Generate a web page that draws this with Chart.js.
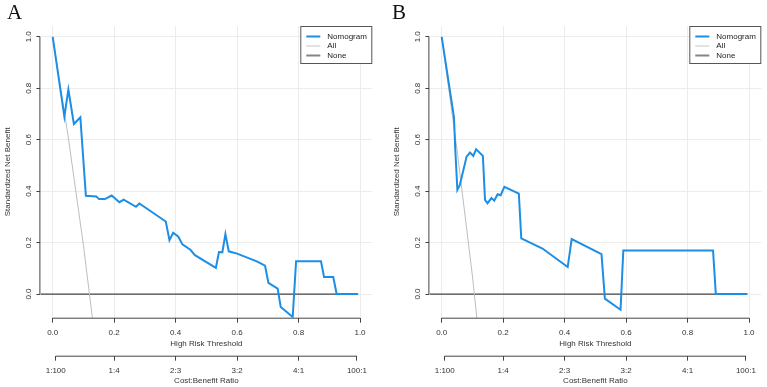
<!DOCTYPE html>
<html>
<head>
<meta charset="utf-8">
<script src="https://cdn.jsdelivr.net/npm/chart.js@4.4.1/dist/chart.umd.min.js"></script>
<style>
  body { margin: 0; background: #fff; overflow: hidden; }
  #wrap { position: relative; width: 767px; height: 387px; }
  .panel { position: absolute; top: 0; height: 387px; }
  .tag { position: absolute; top: 2px; font-family: "Liberation Serif", serif; font-size: 21px; line-height: 21px; color: #111; }
</style>
</head>
<body>
<div id="wrap">
  <div class="panel" style="left:0;width:383px"><canvas id="chartA" width="383" height="387"></canvas></div>
  <div class="panel" style="left:389px;width:378px"><canvas id="chartB" width="378" height="387"></canvas></div>
  <div class="tag" style="left:7px">A</div>
  <div class="tag" style="left:392px">B</div>
</div>
<script>
// panel A
const thresholdA = [0, 0.038, 0.051, 0.069, 0.09, 0.108, 0.142, 0.151, 0.17, 0.192, 0.217, 0.231, 0.271, 0.282,
  0.368, 0.38, 0.392, 0.409, 0.422, 0.448, 0.463, 0.531, 0.541, 0.552, 0.562, 0.573, 0.6, 0.664, 0.691, 0.702,
  0.732, 0.742, 0.781, 0.792, 0.873, 0.883, 0.913, 0.924, 0.994];
const nomogramA = [1, 0.69, 0.795, 0.661, 0.687, 0.382, 0.379, 0.369, 0.369, 0.383, 0.357, 0.367, 0.339, 0.352,
  0.282, 0.209, 0.238, 0.223, 0.193, 0.172, 0.151, 0.102, 0.163, 0.162, 0.233, 0.166, 0.157, 0.127, 0.11, 0.043,
  0.021, -0.05, -0.089, 0.127, 0.127, 0.066, 0.066, 0, 0];
const allThresholdA = [0, 0.05, 0.1, 0.13];
const allBenefitA = [1, 0.615, 0.19, -0.1];

// panel B
const thresholdB = [0, 0.04, 0.044, 0.051, 0.059, 0.081, 0.092, 0.103, 0.112, 0.134, 0.141, 0.149, 0.162, 0.171,
  0.182, 0.192, 0.204, 0.251, 0.259, 0.328, 0.41, 0.423, 0.52, 0.531, 0.582, 0.591, 0.883, 0.892, 0.995];
const nomogramB = [1, 0.687, 0.567, 0.405, 0.424, 0.534, 0.55, 0.537, 0.563, 0.537, 0.366, 0.353, 0.373, 0.363,
  0.388, 0.384, 0.417, 0.39, 0.216, 0.177, 0.105, 0.214, 0.155, -0.018, -0.061, 0.169, 0.169, 0, 0];
const allThresholdB = [0, 0.05, 0.1, 0.115];
const allBenefitB = [1, 0.56, 0.07, -0.1];

const noneThreshold = [-0.04, 0.99];
const noneBenefit = [0, 0];

const xTicks = [0, 0.2, 0.4, 0.6, 0.8, 1.0];
const yTicks = [0, 0.2, 0.4, 0.6, 0.8, 1.0];
const ratioPositions = [0.0099, 0.2, 0.4, 0.6, 0.8, 0.99];
const ratioLabels = ['1:100', '1:4', '2:3', '3:2', '4:1', '100:1'];
const seriesNames = ['Nomogram', 'All', 'None'];

const FONT = { family: 'Liberation Sans, Arial, sans-serif', size: 8 };
const TEXT = '#333';
const AXIS = '#444';
const GRID = '#ececec';
const lineColors = ['#1c8ee6', '#bdbdbd', '#444'];

function points(xs, ys) {
    return xs.map((x, i) => ({ x: x, y: ys[i] }));
}

// R style axes: the line only runs from the first tick to the last one
const rAxes = {
    id: 'rAxes',
    afterDraw(chart) {
        const ctx = chart.ctx;
        const { x, x2, y } = chart.scales;
        ctx.save();
        ctx.strokeStyle = AXIS;
        ctx.lineWidth = 1;
        ctx.beginPath();
        ctx.moveTo(x.getPixelForValue(xTicks[0]), x.top + 0.5);
        ctx.lineTo(x.getPixelForValue(xTicks[xTicks.length - 1]), x.top + 0.5);
        ctx.moveTo(x2.getPixelForValue(ratioPositions[0]), x2.top + 0.5);
        ctx.lineTo(x2.getPixelForValue(ratioPositions[ratioPositions.length - 1]), x2.top + 0.5);
        ctx.moveTo(y.right - 0.5, y.getPixelForValue(yTicks[0]));
        ctx.lineTo(y.right - 0.5, y.getPixelForValue(yTicks[yTicks.length - 1]));
        ctx.stroke();
        ctx.restore();
    }
};

const boxLegend = {
    id: 'boxLegend',
    afterDraw(chart) {
        const ctx = chart.ctx;
        const area = chart.chartArea;
        const w = 72, h = 38;
        const left = area.right - w, top = area.top;
        const widths = [2, 1, 2];
        const colors = ['#1c8ee6', '#c4c4c4', '#858585'];
        ctx.save();
        ctx.fillStyle = '#fff';
        ctx.fillRect(left, top, w, h);
        ctx.strokeStyle = '#555';
        ctx.lineWidth = 1;
        ctx.strokeRect(left + 0.5, top + 0.5, w - 1, h - 1);
        ctx.font = `${FONT.size}px ${FONT.family}`;
        ctx.textBaseline = 'middle';
        ctx.fillStyle = '#222';
        seriesNames.forEach((name, i) => {
            const yy = top + 10.5 + i * 9.5;
            ctx.strokeStyle = colors[i];
            ctx.lineWidth = widths[i];
            ctx.beginPath();
            ctx.moveTo(left + 6, yy);
            ctx.lineTo(left + 20, yy);
            ctx.stroke();
            ctx.fillText(name, left + 27, yy);
        });
        ctx.restore();
    }
};

function makePanel(id, thresholds, nomogram, allT, allB, padRight) {
    const ctx = document.getElementById(id).getContext('2d');
    return new Chart(ctx, {
        type: 'line',
        data: {
            datasets: [
                { label: seriesNames[0], data: points(thresholds, nomogram), borderColor: lineColors[0], borderWidth: 2 },
                { label: seriesNames[1], data: points(allT, allB), borderColor: lineColors[1], borderWidth: 1 },
                { label: seriesNames[2], data: points(noneThreshold, noneBenefit), borderColor: lineColors[2], borderWidth: 1.2 }
            ]
        },
        options: {
            responsive: false,
            devicePixelRatio: 1,
            animation: false,
            elements: { point: { radius: 0 }, line: { tension: 0 } },
            layout: { padding: { top: 26, right: padRight, left: 0, bottom: 0 } },
            plugins: { legend: { display: false }, tooltip: { enabled: false } },
            scales: {
                x: {
                    type: 'linear',
                    position: 'bottom',
                    weight: 0,
                    min: -0.04,
                    max: 1.04,
                    afterBuildTicks: s => { s.ticks = xTicks.map(v => ({ value: v })); },
                    afterFit: s => { s.height = 38; },
                    grid: { color: GRID, tickColor: AXIS, tickLength: 5 },
                    border: { display: false },
                    ticks: { font: FONT, color: TEXT, padding: 5, maxRotation: 0, autoSkip: false,
                        callback: v => v.toFixed(1) },
                    title: { display: true, text: 'High Risk Threshold', font: FONT, color: TEXT,
                        padding: { top: 0, bottom: 7.6 } }
                },
                x2: {
                    type: 'linear',
                    position: 'bottom',
                    weight: 1,
                    min: -0.04,
                    max: 1.04,
                    afterBuildTicks: s => { s.ticks = ratioPositions.map(v => ({ value: v })); },
                    afterFit: s => { s.height = 31.3; },
                    grid: { drawOnChartArea: false, color: GRID, tickColor: AXIS, tickLength: 5 },
                    border: { display: false },
                    ticks: { font: FONT, color: TEXT, padding: 4.8, maxRotation: 0, autoSkip: false,
                        callback: (v, i) => ratioLabels[i] },
                    title: { display: true, text: 'Cost:Benefit Ratio', font: FONT, color: TEXT,
                        padding: { top: 0, bottom: 1.9 } }
                },
                y: {
                    type: 'linear',
                    position: 'left',
                    min: -0.092,
                    max: 1.042,
                    afterBuildTicks: s => { s.ticks = yTicks.map(v => ({ value: v })); },
                    afterFit: s => { s.width = 40.4; },
                    grid: { color: GRID, tickColor: AXIS, tickLength: 4 },
                    border: { display: false },
                    ticks: { font: FONT, color: TEXT, padding: 2.5, minRotation: 90, maxRotation: 90,
                        crossAlign: 'center', autoSkip: false, callback: v => v.toFixed(1) },
                    title: { display: true, text: 'Standardized Net Benefit', font: FONT, color: TEXT,
                        padding: { top: 2.7, bottom: 0 } }
                }
            }
        },
        plugins: [rAxes, boxLegend]
    });
}

makePanel('chartA', thresholdA, nomogramA, allThresholdA, allBenefitA, 10.7);
makePanel('chartB', thresholdB, nomogramB, allThresholdB, allBenefitB, 5.7);
</script>
</body>
</html>
